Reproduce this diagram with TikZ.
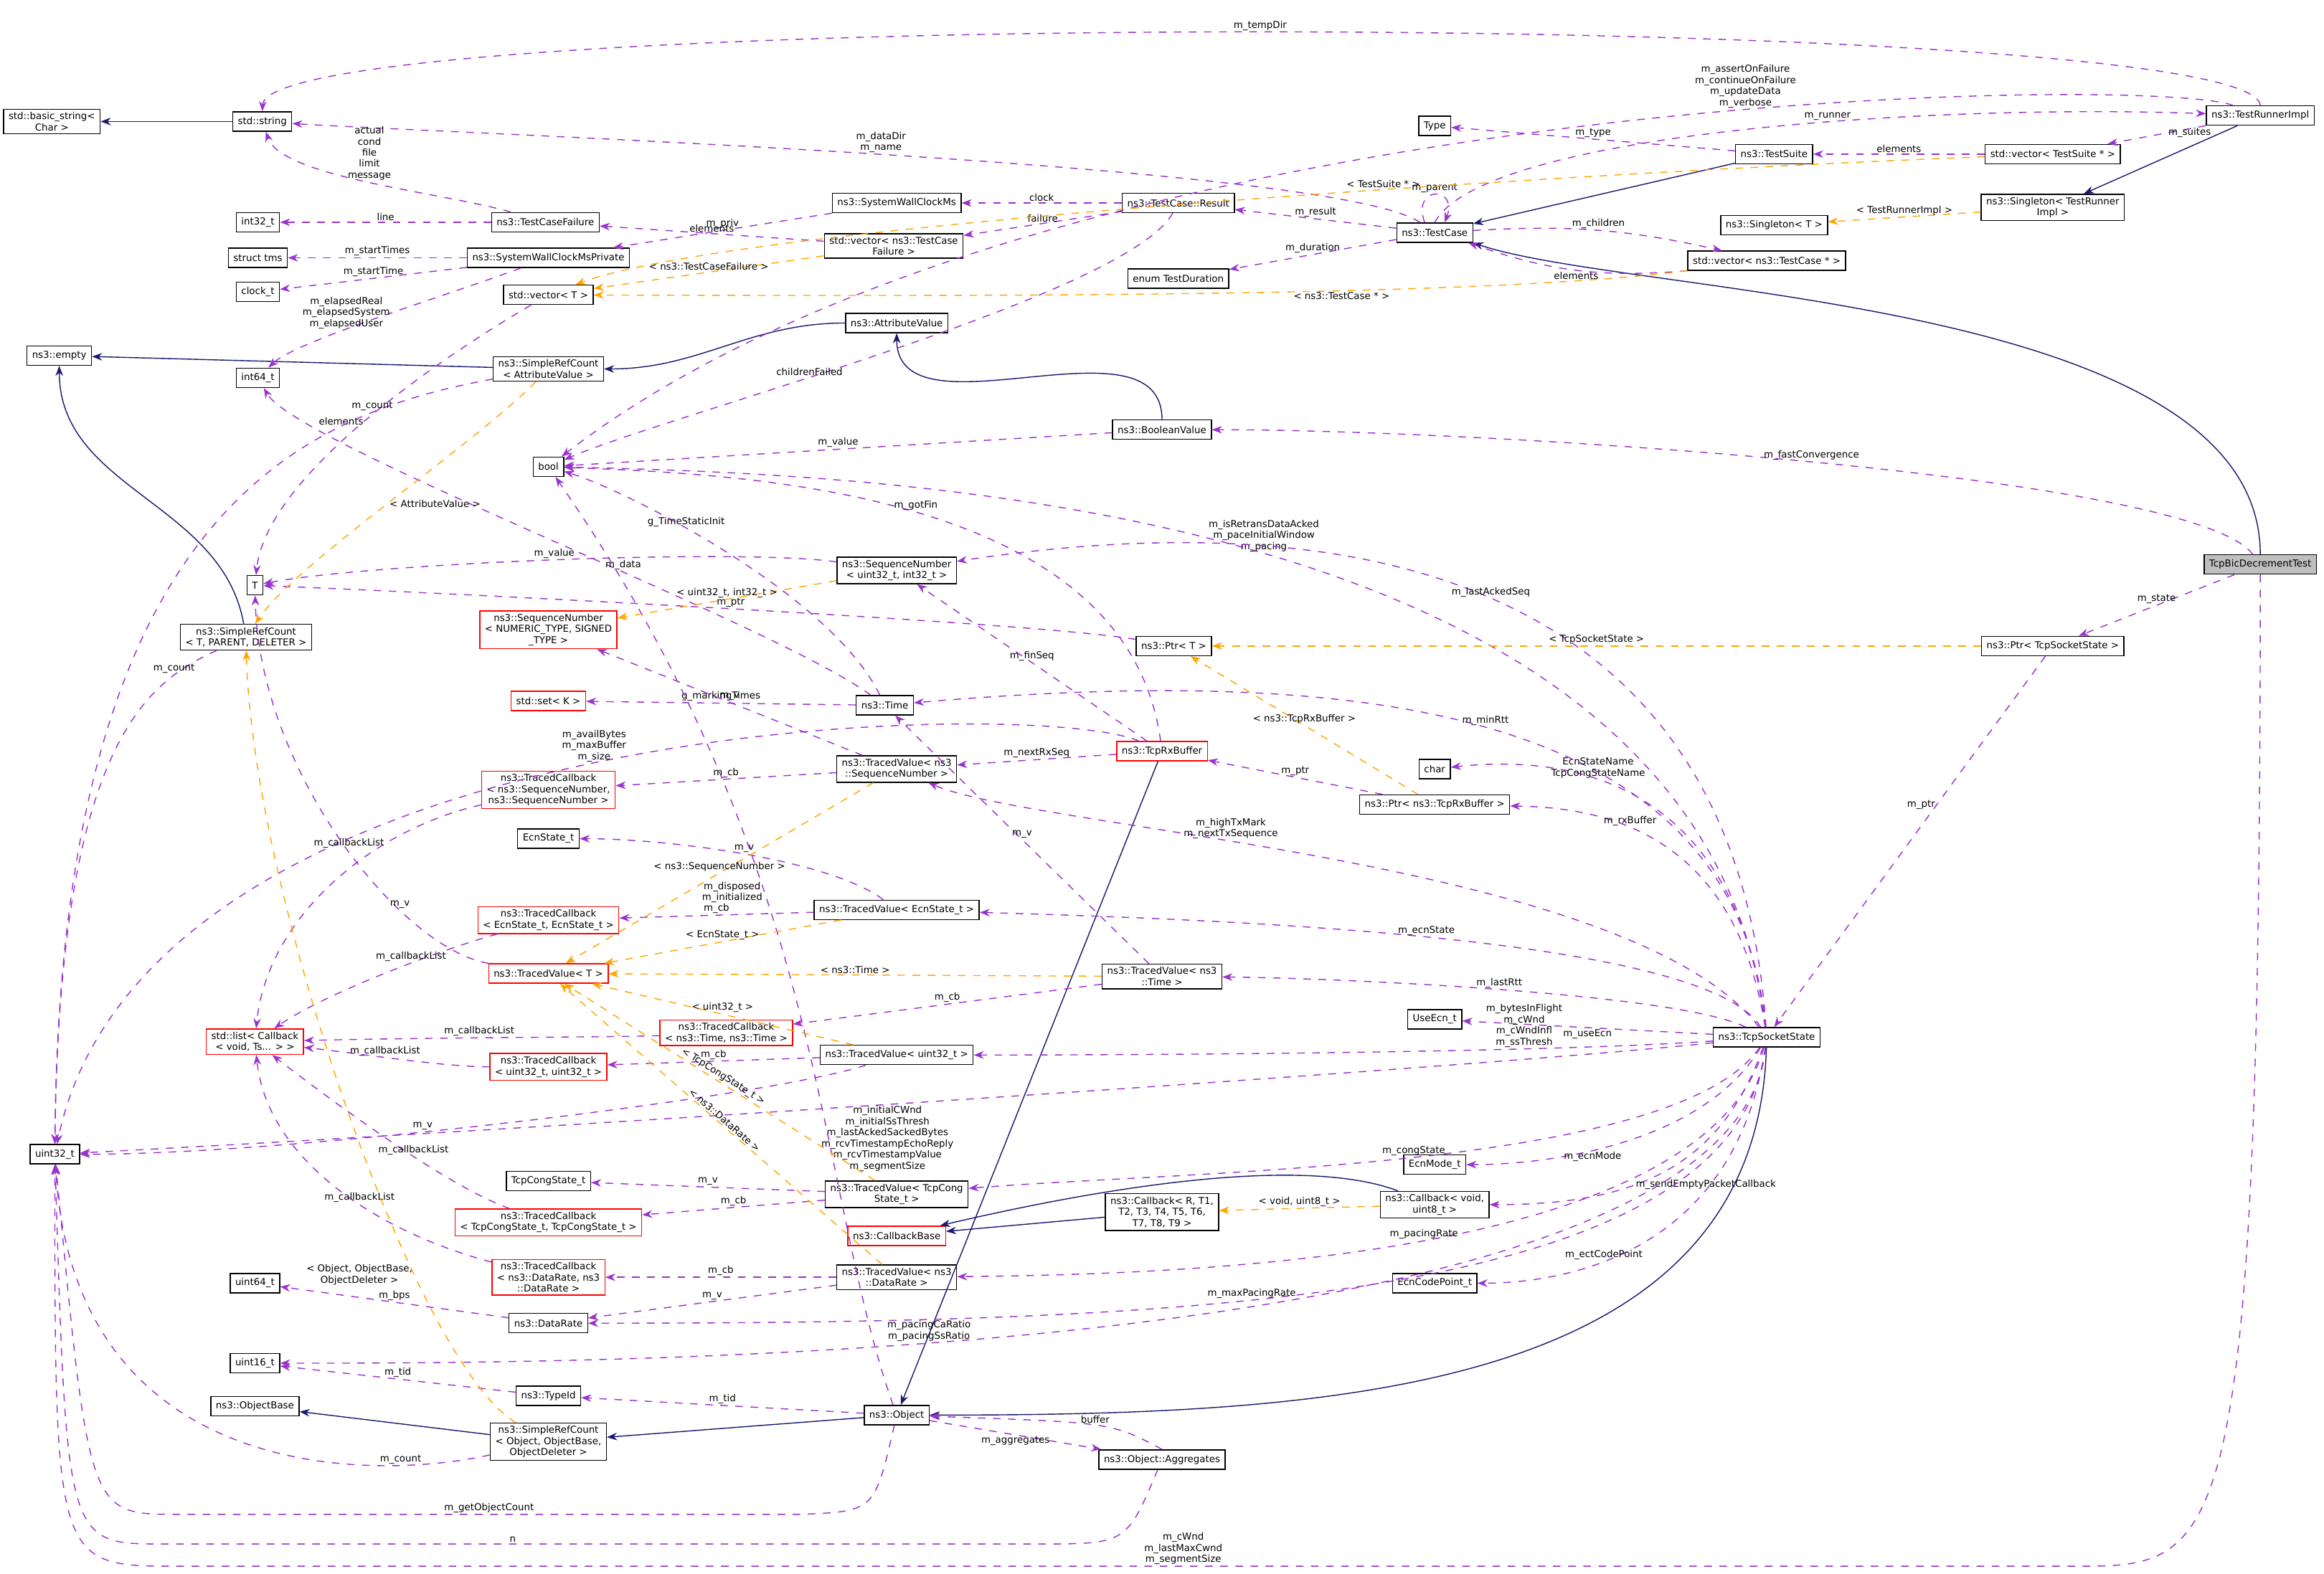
\documentclass[tikz,border=0pt]{standalone}
\usepackage{fontspec}
\setmainfont{DejaVu Sans}
\usetikzlibrary{arrows.meta}
\definecolor{usecol}{HTML}{9A32CD}
\definecolor{tplcol}{HTML}{FFA500}
\definecolor{inhcol}{HTML}{191970}
\tikzset{
  cls/.style={draw, fill=white, font=\fontsize{3.8}{4.4}\selectfont, align=center, inner xsep=2pt, inner ysep=1.2pt, minimum height=0.27cm},
  bad/.style={cls, draw=red},
  cur/.style={cls, fill=black!25},
  use/.style={draw=usecol, dashed, -{Stealth[length=4pt,width=3pt]}, thin},
  tpl/.style={draw=tplcol, dashed, -{Stealth[length=4pt,width=3pt]}, thin},
  inh/.style={draw=inhcol, -{Stealth[length=4pt,width=3pt]}, thin},
  lbl/.style={font=\fontsize{3.8}{4.4}\selectfont, align=center, inner sep=0.5pt, text=black}
}
\begin{document}
\begin{tikzpicture}[x=0.02066cm, y=-0.02066cm]
        \useasboundingbox[fill=white] (0,0) rectangle (1568,1062);
        % left column
        \node[cls] (basic) at (35,82) {std::basic\_string\textless\\Char \textgreater};
        \node[cls] (str) at (177,82) {std::string};
        \node[cls] (i32) at (174,150) {int32\_t};
        \node[cls] (tms) at (174,174) {struct tms};
        \node[cls] (clk) at (174,197) {clock\_t};
        \node[cls] (empty) at (40,240) {ns3::empty};
        \node[cls] (i64) at (174,255) {int64\_t};
        \node[cls] (bool) at (370,315) {bool};
        \node[cls] (T) at (172,395) {T};
        \node[cls] (srcTPD) at (166,430) {ns3::SimpleRefCount\\\textless{} T, PARENT, DELETER \textgreater};
        \node[cls] (u32) at (37,779) {uint32\_t};
        \node[bad] (lst) at (172,703) {std::list\textless{} Callback\\\textless{} void, Ts... \textgreater{} \textgreater};
        \node[cls] (u64) at (172,866) {uint64\_t};
        \node[cls] (u16) at (172,920) {uint16\_t};
        \node[cls] (objBase) at (172,949) {ns3::ObjectBase};
        % second column
        \node[cls] (tcf) at (368,150) {ns3::TestCaseFailure};
        \node[cls] (swPriv) at (370,174) {ns3::SystemWallClockMsPrivate};
        \node[cls] (vecT) at (370,199) {std::vector\textless{} T \textgreater};
        \node[cls] (srcAttr) at (370,249) {ns3::SimpleRefCount\\\textless{} AttributeValue \textgreater};
        \node[bad] (seqGen) at (370,425) {ns3::SequenceNumber\\\textless{} NUMERIC\_TYPE, SIGNED\\\_TYPE \textgreater};
        \node[bad] (setK) at (370,473) {std::set\textless{} K \textgreater};
        \node[bad] (tcSeq) at (370,533) {ns3::TracedCallback\\\textless{} ns3::SequenceNumber,\\ns3::SequenceNumber \textgreater};
        \node[cls] (ecnSt) at (370,566) {EcnState\_t};
        \node[bad] (tcEcn) at (370,621) {ns3::TracedCallback\\\textless{} EcnState\_t, EcnState\_t \textgreater};
        \node[bad] (tvT) at (370,657) {ns3::TracedValue\textless{} T \textgreater};
        \node[bad] (tcU) at (370,720) {ns3::TracedCallback\\\textless{} uint32\_t, uint32\_t \textgreater};
        \node[cls] (congSt) at (370,797) {TcpCongState\_t};
        \node[bad] (tcCong) at (370,825) {ns3::TracedCallback\\\textless{} TcpCongState\_t, TcpCongState\_t \textgreater};
        \node[bad] (tcDR) at (370,862) {ns3::TracedCallback\\\textless{} ns3::DataRate, ns3\\::DataRate \textgreater};
        \node[cls] (dr) at (370,893) {ns3::DataRate};
        \node[cls] (tid) at (370,942) {ns3::TypeId};
        \node[cls] (srcObj) at (370,973) {ns3::SimpleRefCount\\\textless{} Object, ObjectBase,\\ObjectDeleter \textgreater};
        \node[bad] (tcTime) at (490,697) {ns3::TracedCallback\\\textless{} ns3::Time, ns3::Time \textgreater};
        % third column
        \node[cls] (sw) at (605,137) {ns3::SystemWallClockMs};
        \node[cls] (vecTcf) at (603,166) {std::vector\textless{} ns3::TestCase\\Failure \textgreater};
        \node[cls] (attr) at (605,218) {ns3::AttributeValue};
        \node[cls] (seq) at (605,385) {ns3::SequenceNumber\\\textless{} uint32\_t, int32\_t \textgreater};
        \node[cls] (time) at (597,476) {ns3::Time};
        \node[cls] (tvSeq) at (605,519) {ns3::TracedValue\textless{} ns3\\::SequenceNumber \textgreater};
        \node[cls] (tvEcn) at (605,614) {ns3::TracedValue\textless{} EcnState\_t \textgreater};
        \node[cls] (tvU) at (605,712) {ns3::TracedValue\textless{} uint32\_t \textgreater};
        \node[cls] (tvCong) at (605,806) {ns3::TracedValue\textless{} TcpCong\\State\_t \textgreater};
        \node[bad] (cbBase) at (605,834) {ns3::CallbackBase};
        \node[cls] (tvDR) at (605,862) {ns3::TracedValue\textless{} ns3\\::DataRate \textgreater};
        \node[cls] (obj) at (605,955) {ns3::Object};
        % fourth column
        \node[cls] (type) at (968,85) {Type};
        \node[cls] (res) at (795,137) {ns3::TestCase::Result};
        \node[cls] (dur) at (795,188) {enum TestDuration};
        \node[cls] (boolV) at (784,290) {ns3::BooleanValue};
        \node[cls] (ptrT) at (792,436) {ns3::Ptr\textless{} T \textgreater};
        \node[bad] (rx) at (784,507) {ns3::TcpRxBuffer};
        \node[cls] (tvTime) at (784,659) {ns3::TracedValue\textless{} ns3\\::Time \textgreater};
        \node[cls] (cbR) at (784,818) {ns3::Callback\textless{} R, T1,\\T2, T3, T4, T5, T6,\\T7, T8, T9 \textgreater};
        \node[cls] (agg) at (784,985) {ns3::Object::Aggregates};
        % right part
        \node[cls] (tc) at (968,157) {ns3::TestCase};
        \node[cls] (suite) at (1197,104) {ns3::TestSuite};
        \node[cls] (vecTS) at (1385,104) {std::vector\textless{} TestSuite * \textgreater};
        \node[cls] (runner) at (1525,78) {ns3::TestRunnerImpl};
        \node[cls] (single) at (1197,152) {ns3::Singleton\textless{} T \textgreater};
        \node[cls] (singleR) at (1385,140) {ns3::Singleton\textless{} TestRunner\\Impl \textgreater};
        \node[cls] (vecTC) at (1192,176) {std::vector\textless{} ns3::TestCase * \textgreater};
        \node[cls] (chr) at (968,519) {char};
        \node[cls] (ptrRx) at (968,543) {ns3::Ptr\textless{} ns3::TcpRxBuffer \textgreater};
        \node[cls] (ptrTss) at (1385,436) {ns3::Ptr\textless{} TcpSocketState \textgreater};
        \node[cls] (useEcn) at (968,688) {UseEcn\_t};
        \node[cls] (tss) at (1192,700) {ns3::TcpSocketState};
        \node[cls] (ecnMode) at (968,786) {EcnMode\_t};
        \node[cls] (cbV) at (968,813) {ns3::Callback\textless{} void,\\uint8\_t \textgreater};
        \node[cls] (ecnCp) at (968,866) {EcnCodePoint\_t};
        \node[cur] (test) at (1525,381) {TcpBicDecrementTest};

        % inheritance
        \draw[inh] (str) -- (basic);
        \draw[inh] (srcAttr) -- (empty);
        \draw[inh] (srcTPD) to[out=100,in=-90] (empty);
        \draw[inh] (attr) to[out=180,in=0] (srcAttr);
        \draw[inh] (boolV) to[out=90,in=-90] (attr);
        \draw[inh] (suite) -- (tc);
        \draw[inh] (runner) -- (singleR);
        \draw[inh] (test.north) .. controls (1525,200) and (1100,200) .. (tc.south east);
        \draw[inh] (rx) -- (obj);
        \draw[inh] (tss) .. controls (1185,940) and (900,955) .. (obj);
        \draw[inh] (cbV) .. controls (880,780) and (750,800) .. (cbBase);
        \draw[inh] (cbR) -- (cbBase);
        \draw[inh] (srcObj) -- (objBase);
        \draw[inh] (obj) -- (srcObj);

        % members
        \draw[use] (runner.north) .. controls (1520,5) and (180,5) .. node[lbl,above,pos=0.5]{m\_tempDir} (str.north);
        \draw[use] (runner) .. controls (1450,50) and (700,60) .. node[lbl,pos=0.4,above]{m\_assertOnFailure\\m\_continueOnFailure\\m\_updateData\\m\_verbose} (bool);
        \draw[use] (tc.north) .. controls (1000,90) and (1300,70) .. node[lbl,above,pos=0.6]{m\_runner} (runner);
        \draw[use] (runner) -- node[lbl,right,pos=0.4]{m\_suites} (vecTS);
        \draw[use] (vecTS) -- node[lbl,above]{elements} (suite);
        \draw[use] (suite) -- node[lbl,above]{m\_type} (type);
        \draw[use] (tc) .. controls (900,110) and (300,90) .. node[lbl,above,pos=0.5]{m\_dataDir\\m\_name} (str);
        \draw[use] ([xshift=-4pt]tc.north) to[out=110,in=70,looseness=5] node[lbl,above]{m\_parent} ([xshift=4pt]tc.north);
        \draw[use] (tc) -- node[lbl,above]{m\_result} (res);
        \draw[use] (tc) -- node[lbl,above]{m\_duration} (dur);
        \draw[use] (tc) to[bend left=8] node[lbl,above]{m\_children} (vecTC);
        \draw[use] (vecTC) to[bend left=12] node[lbl,below]{elements} (tc);
        \draw[use] (res) -- node[lbl,above]{clock} (sw);
        \draw[use] (res) -- node[lbl,above]{failure} (vecTcf);
        \draw[use] (res) .. controls (760,200) and (450,280) .. node[lbl,pos=0.6,above]{childrenFailed} (bool);
        \draw[use] (sw) -- node[lbl,above]{m\_priv} (swPriv);
        \draw[use] (vecTcf) -- node[lbl,above]{elements} (tcf);
        \draw[use] (tcf) .. controls (300,130) and (190,120) .. node[lbl,pos=0.5,above]{actual\\cond\\file\\limit\\message} (str);
        \draw[use] (tcf) -- node[lbl,above]{line} (i32);
        \draw[use] (swPriv) -- node[lbl,above]{m\_startTimes} (tms);
        \draw[use] (swPriv) -- node[lbl,above]{m\_startTime} (clk);
        \draw[use] (swPriv) .. controls (300,200) and (200,230) .. node[lbl,pos=0.45,left]{m\_elapsedReal\\m\_elapsedSystem\\m\_elapsedUser} (i64);
        \draw[use] (vecT) .. controls (300,240) and (180,320) .. node[lbl,pos=0.5,left]{elements} (T);
        \draw[use] (srcAttr) .. controls (200,280) and (40,350) .. node[lbl,pos=0.2,above]{m\_count} (u32);
        \draw[use] (srcTPD) .. controls (100,460) and (40,500) .. node[lbl,pos=0.2,above]{m\_count} (u32);
        \draw[use] (boolV) -- node[lbl,above]{m\_value} (bool);
        \draw[use] (test) .. controls (1480,320) and (1000,290) .. node[lbl,above,pos=0.5]{m\_fastConvergence} (boolV);
        \draw[use] (test) -- node[lbl,above]{m\_state} (ptrTss);
        \draw[use] (test.south) .. controls (1525,1057) and (1500,1057) .. (1400,1057) -- node[lbl,above,pos=0.47]{m\_cWnd\\m\_lastMaxCwnd\\m\_segmentSize} (120,1057) .. controls (37,1057) .. (u32.south);
        \draw[use] (ptrTss) -- node[lbl,left,pos=0.4]{m\_ptr} (tss);
        \draw[use] (tss) .. controls (1150,340) and (600,320) .. node[lbl,pos=0.5,above]{m\_isRetransDataAcked\\m\_paceInitialWindow\\m\_pacing} (bool);
        \draw[use] (tss) .. controls (1170,380) and (900,340) .. node[lbl,pos=0.5,above]{m\_lastAckedSeq} (seq);
        \draw[use] (tss) .. controls (1170,470) and (900,450) .. node[lbl,pos=0.5,above]{m\_minRtt} (time);
        \draw[use] (tss) .. controls (1170,520) and (1050,510) .. node[lbl,pos=0.6,above]{EcnStateName\\TcpCongStateName} (chr);
        \draw[use] (tss) .. controls (1170,560) and (1080,545) .. node[lbl,pos=0.6,above]{m\_rxBuffer} (ptrRx);
        \draw[use] (tss) .. controls (1100,580) and (700,560) .. node[lbl,pos=0.6,above]{m\_highTxMark\\m\_nextTxSequence} (tvSeq);
        \draw[use] (tss) .. controls (1150,630) and (800,620) .. node[lbl,pos=0.5,above]{m\_ecnState} (tvEcn);
        \draw[use] (tss) .. controls (1130,670) and (900,660) .. node[lbl,pos=0.5,above]{m\_lastRtt} (tvTime);
        \draw[use] (tss) -- node[lbl,below]{m\_useEcn} (useEcn);
        \draw[use] (tss) .. controls (1050,710) and (800,712) .. node[lbl,pos=0.3,above]{m\_bytesInFlight\\m\_cWnd\\m\_cWndInfl\\m\_ssThresh} (tvU);
        \draw[use] (tss) .. controls (1000,720) and (400,760) .. node[lbl,pos=0.56,below]{m\_initialCWnd\\m\_initialSsThresh\\m\_lastAckedSackedBytes\\m\_rcvTimestampEchoReply\\m\_rcvTimestampValue\\m\_segmentSize} (u32);
        \draw[use] (tss) .. controls (1130,790) and (800,790) .. node[lbl,pos=0.5,above]{m\_congState} (tvCong);
        \draw[use] (tss) .. controls (1150,770) and (1050,786) .. node[lbl,pos=0.6,below]{m\_ecnMode} (ecnMode);
        \draw[use] (tss) .. controls (1160,790) and (1100,813) .. node[lbl,pos=0.6,right]{m\_sendEmptyPacketCallback} (cbV);
        \draw[use] (tss) .. controls (1150,850) and (800,860) .. node[lbl,pos=0.5,above]{m\_pacingRate} (tvDR);
        \draw[use] (tss) .. controls (1170,850) and (1050,866) .. node[lbl,pos=0.6,above]{m\_ectCodePoint} (ecnCp);
        \draw[use] (tss) .. controls (1170,880) and (800,893) .. node[lbl,pos=0.6,above]{m\_maxPacingRate} (dr);
        \draw[use] (tss) .. controls (1170,920) and (400,920) .. node[lbl,pos=0.6,above]{m\_pacingCaRatio\\m\_pacingSsRatio} (u16);
        \draw[use] (rx) .. controls (760,330) and (500,320) .. node[lbl,pos=0.5,above]{m\_gotFin} (bool);
        \draw[use] (rx) -- node[lbl,above]{m\_finSeq} (seq);
        \draw[use] (rx) -- node[lbl,above]{m\_nextRxSeq} (tvSeq);
        \draw[use] (rx) .. controls (700,470) and (100,480) .. node[lbl,pos=0.5,above]{m\_availBytes\\m\_maxBuffer\\m\_size} (u32);
        \draw[use] (ptrRx) -- node[lbl,above]{m\_ptr} (rx);
        \draw[use] (ptrT) .. controls (700,420) and (300,400) .. node[lbl,pos=0.5,above]{m\_ptr} (T);
        \draw[use] (seq) .. controls (500,370) and (250,380) .. node[lbl,pos=0.5,above]{m\_value} (T);
        \draw[use] (time) .. controls (560,400) and (420,330) .. node[lbl,pos=0.6,above]{g\_TimeStaticInit} (bool);
        \draw[use] (time) .. controls (520,420) and (200,300) .. node[lbl,pos=0.4,above]{m\_data} (i64);
        \draw[use] (time) -- node[lbl,above]{g\_markingTimes} (setK);
        \draw[use] (tvSeq) -- node[lbl,above]{m\_v} (seqGen);
        \draw[use] (tvSeq) -- node[lbl,above]{m\_cb} (tcSeq);
        \draw[use] (tvEcn) .. controls (560,580) and (450,566) .. node[lbl,above]{m\_v} (ecnSt);
        \draw[use] (tvEcn) -- node[lbl,above]{m\_cb} (tcEcn);
        \draw[use] (tvTime) -- node[lbl,above]{m\_v} (time);
        \draw[use] (tvTime) -- node[lbl,above]{m\_cb} (tcTime);
        \draw[use] (tvU) -- node[lbl,above]{m\_cb} (tcU);
        \draw[use] (tvU) .. controls (520,740) and (200,779) .. node[lbl,pos=0.6,above]{m\_v} (u32);
        \draw[use] (tvCong) -- node[lbl,above]{m\_v} (congSt);
        \draw[use] (tvCong) -- node[lbl,above]{m\_cb} (tcCong);
        \draw[use] (tvDR) -- node[lbl,above]{m\_cb} (tcDR);
        \draw[use] (tvDR) -- node[lbl,above]{m\_v} (dr);
        \draw[use] (dr) -- node[lbl,above]{m\_bps} (u64);
        \draw[use] (tid) -- node[lbl,above]{m\_tid} (u16);
        \draw[use] (obj) -- node[lbl,above]{m\_tid} (tid);
        \draw[use] (obj) -- node[lbl,below]{m\_aggregates} (agg);
        \draw[use] (agg.north) .. controls (750,960) .. node[lbl,above]{buffer} (obj);
        \draw[use] (agg) .. controls (760,1042) .. (700,1042) -- node[lbl,above,pos=0.6]{n} (110,1042) .. controls (45,1042) .. (u32);
        \draw[use] (obj) .. controls (590,1020) .. (540,1022) -- node[lbl,above]{m\_getObjectCount} (120,1022) .. controls (60,1022) .. (u32);
        \draw[use] (srcObj) .. controls (250,1000) and (50,1000) .. node[lbl,pos=0.2,above]{m\_count} (u32);
        \draw[use] (obj) .. controls (550,800) and (560,590) .. node[lbl,pos=0.62,left]{m\_disposed\\m\_initialized} (bool);
        \draw[use] (tcSeq) .. controls (250,560) and (180,620) .. node[lbl,pos=0.3,left]{m\_callbackList} (lst);
        \draw[use] (tcEcn) .. controls (300,640) and (220,670) .. node[lbl,pos=0.4,above]{m\_callbackList} (lst);
        \draw[use] (tcTime) .. controls (420,700) and (300,700) .. node[lbl,pos=0.6,above]{m\_callbackList} (lst);
        \draw[use] (tcU) .. controls (300,720) and (250,712) .. node[lbl,pos=0.6,above]{m\_callbackList} (lst);
        \draw[use] (tcCong) .. controls (300,800) and (220,740) .. node[lbl,pos=0.4,above]{m\_callbackList} (lst);
        \draw[use] (tcDR) .. controls (250,830) and (180,780) .. node[lbl,pos=0.4,above]{m\_callbackList} (lst);
        \draw[use] (tvT) .. controls (270,640) and (175,520) .. node[lbl,pos=0.3,above]{m\_v} (T);

        % templates
        \draw[tpl] (vecTS) .. controls (1100,115) and (500,150) .. node[lbl,pos=0.4,above]{\textless{} TestSuite * \textgreater} (vecT);
        \draw[tpl] (vecTcf) -- node[lbl,above]{\textless{} ns3::TestCaseFailure \textgreater} (vecT);
        \draw[tpl] (vecTC) .. controls (1000,200) and (700,200) .. node[lbl,pos=0.4,below]{\textless{} ns3::TestCase * \textgreater} (vecT);
        \draw[tpl] (singleR) -- node[lbl,above]{\textless{} TestRunnerImpl \textgreater} (single);
        \draw[tpl] (srcAttr) .. controls (320,300) and (200,380) .. node[lbl,pos=0.5,right]{\textless{} AttributeValue \textgreater} (srcTPD);
        \draw[tpl] (seq) -- node[lbl,above]{\textless{} uint32\_t, int32\_t \textgreater} (seqGen);
        \draw[tpl] (ptrTss) -- node[lbl,above]{\textless{} TcpSocketState \textgreater} (ptrT);
        \draw[tpl] (ptrRx) -- node[lbl,above]{\textless{} ns3::TcpRxBuffer \textgreater} (ptrT);
        \draw[tpl] (tvSeq) -- node[lbl,above]{\textless{} ns3::SequenceNumber \textgreater} (tvT);
        \draw[tpl] (tvEcn) -- node[lbl,above]{\textless{} EcnState\_t \textgreater} (tvT);
        \draw[tpl] (tvTime) -- node[lbl,above]{\textless{} ns3::Time \textgreater} (tvT);
        \draw[tpl] (tvU) -- node[lbl,above]{\textless{} uint32\_t \textgreater} (tvT);
        \draw[tpl] (tvCong) -- node[lbl,above,sloped]{\textless{} TcpCongState\_t \textgreater} (tvT);
        \draw[tpl] (tvDR) -- node[lbl,above,sloped]{\textless{} ns3::DataRate \textgreater} (tvT);
        \draw[tpl] (cbV) -- node[lbl,above]{\textless{} void, uint8\_t \textgreater} (cbR);
        \draw[tpl] (srcObj) .. controls (280,920) and (170,600) .. node[lbl,pos=0.3,left]{\textless{} Object, ObjectBase,\\ObjectDeleter \textgreater} (srcTPD);
\end{tikzpicture}
\end{document}
